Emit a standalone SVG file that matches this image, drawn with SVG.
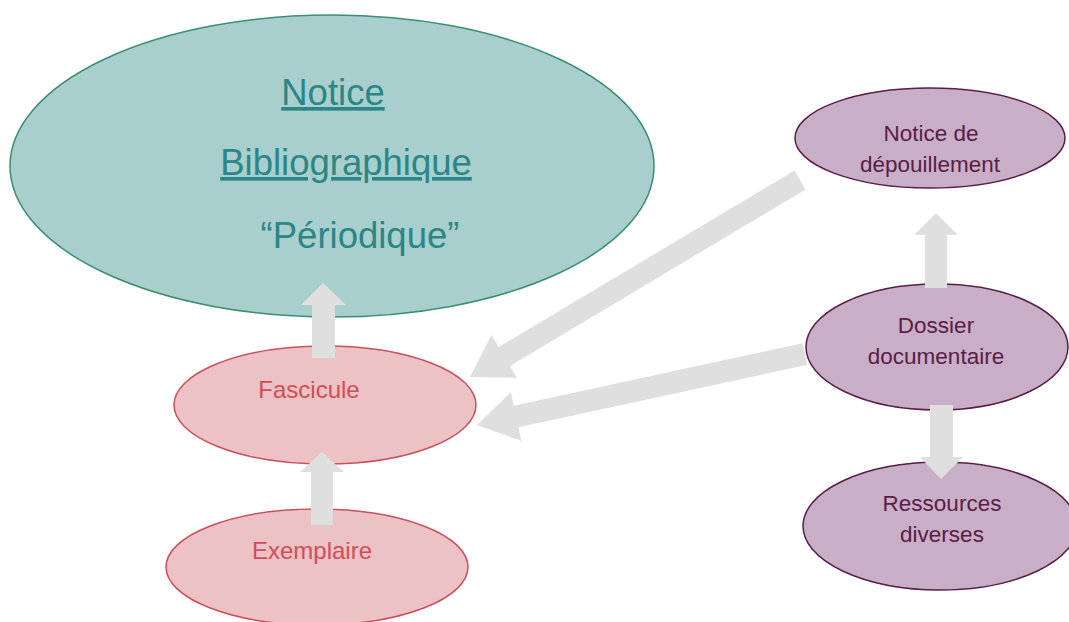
<svg xmlns="http://www.w3.org/2000/svg" width="1069" height="622" viewBox="0 0 1069 622">
<style>
text{font-family:"Liberation Sans",Arial,sans-serif;text-anchor:middle}
.big{fill:#a8cecd;stroke:#3a8f6e;stroke-width:1.5}
.bt{fill:#2b8686;font-size:36.5px}
.pink{fill:#ecc2c4;stroke:#c9505c;stroke-width:1.5}
.pt{fill:#d24d58;font-size:24px}
.pur{fill:#c9aec8;stroke:#5a1d45;stroke-width:1.5}
.ut{fill:#5a1d45;font-size:22.5px}
.arr{fill:#e0dfe0}
</style>
<rect width="1069" height="622" fill="#ffffff"/>
<g id="notice-bibliographique">
<ellipse class="big" cx="332" cy="166" rx="322" ry="151"/>
<text class="bt" x="333" y="105" text-decoration="underline">Notice</text>
<text class="bt" x="346" y="175" text-decoration="underline">Bibliographique</text>
<text class="bt" x="360" y="248">“Périodique”</text>
</g>
<g id="fascicule">
<ellipse class="pink" cx="325" cy="405" rx="151" ry="59"/>
<text class="pt" x="309" y="398">Fascicule</text>
</g>
<g id="exemplaire">
<ellipse class="pink" cx="317" cy="567" rx="151" ry="58"/>
<text class="pt" x="312" y="559">Exemplaire</text>
</g>
<g id="notice-depouillement">
<ellipse class="pur" cx="930" cy="138" rx="135" ry="50"/>
<text class="ut" x="931" y="141">Notice de</text>
<text class="ut" x="930" y="172">dépouillement</text>
</g>
<g id="dossier-documentaire">
<ellipse class="pur" cx="937" cy="347" rx="131" ry="63"/>
<text class="ut" x="936" y="333">Dossier</text>
<text class="ut" x="936" y="364">documentaire</text>
</g>
<g id="ressources-diverses">
<ellipse class="pur" cx="940" cy="526" rx="137" ry="64"/>
<text class="ut" x="942" y="511">Ressources</text>
<text class="ut" x="942" y="542">diverses</text>
</g>
<g id="connectors">
<polygon class="arr" points="311,525 311,472 300,472 322,452 344,472 333,472 333,525"/>
<polygon class="arr" points="312,358 312,305 301,305 323,283 346,305 335,305 335,358"/>
<polygon class="arr" points="925,288 925,235 914,235 936,213 958,235 947,235 947,288"/>
<polygon class="arr" points="930,405 930,457 920,457 941,479 963,457 953,457 953,405"/>
<polygon class="arr" points="794.4,170.6 498.7,347 491.5,335 470,377 517.2,378 510,366 805.6,189.4"/>
<polygon class="arr" points="802.7,343.2 513.8,405.8 510.8,392.1 477,425 521.4,440.9 518.4,427.3 807.3,364.8"/>
</g>
</svg>
